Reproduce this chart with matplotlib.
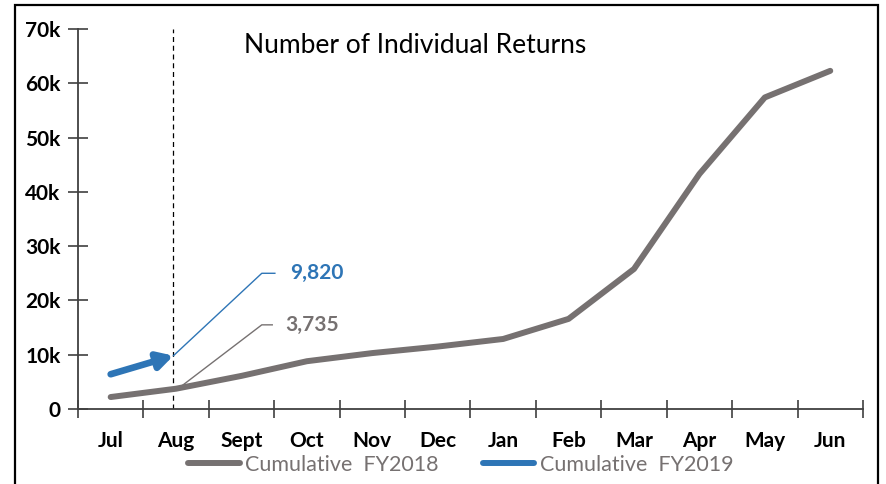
import numpy as np
import matplotlib.pyplot as plt
from matplotlib.lines import Line2D
from matplotlib.patches import Rectangle

plt.rcParams['font.family'] = ['Lato', 'DejaVu Sans']

months = ['Jul', 'Aug', 'Sept', 'Oct', 'Nov', 'Dec', 'Jan', 'Feb', 'Mar', 'Apr', 'May', 'Jun']
fy2018 = [2200, 3735, 6100, 8800, 10300, 11500, 12900, 16600, 25800, 43300, 57400, 62300]
fy2019 = [6400, 9820]
yticks = [0, 10000, 20000, 30000, 40000, 50000, 60000, 70000]
ytick_labels = ['0', '10k', '20k', '30k', '40k', '50k', '60k', '70k']

gray = '#767171'
blue = '#2E75B6'
axis_col = '#404040'

fig = plt.figure(figsize=(8.86, 4.84), dpi=100)
ax = fig.add_axes([0.088, 0.155, 0.886, 0.785])

x = np.arange(len(months))
ax.plot(x, fy2018, color=gray, lw=4.3, solid_capstyle='round', solid_joinstyle='round', zorder=3)

# FY2019 drawn as an arrow up to the latest month
x19 = np.arange(len(fy2019))
ax.annotate('', xy=(x19[-1] - 0.04, fy2019[-1]), xytext=(x19[0], fy2019[0]),
            arrowprops=dict(arrowstyle='-|>,head_length=0.9,head_width=0.5',
                            color=blue, lw=4.8, shrinkA=0, shrinkB=0,
                            capstyle='round'), zorder=4)

# current month marker
ax.axvline(0.95, color='black', lw=0.9, ls=(0, (4, 3)), zorder=2)

# callouts
ax.plot([x19[-1] - 0.04, 2.31, 2.51], [fy2019[-1], 25000, 25000], color=blue, lw=1.0)
ax.text(2.74, 25000, f'{fy2019[-1]:,}', color=blue, fontsize=15, fontweight='bold', va='center')
ax.plot([1.03, 2.31, 2.47], [fy2018[1], 15500, 15500], color=gray, lw=1.0)
ax.text(2.67, 15500, f'{fy2018[1]:,}', color=gray, fontsize=15, fontweight='bold', va='center')

ax.set_xlim(-0.5, len(months) - 0.5)
ax.set_ylim(0, 70000)
ax.set_xticks(np.arange(-0.5, len(months), 1.0))
ax.set_xticklabels([])
ax.set_xticks(x, minor=True)
ax.set_xticklabels(months, minor=True, fontsize=15, fontweight='bold')
ax.tick_params(axis='x', which='minor', length=0, pad=16)
ax.tick_params(axis='x', which='major', direction='inout', length=13, width=1.2, color=axis_col)
ax.set_yticks(yticks)
ax.set_yticklabels(ytick_labels, fontsize=15, fontweight='bold')
ax.tick_params(axis='y', direction='inout', length=15, width=1.2, color=axis_col, pad=5)

for s in ['top', 'right']:
    ax.spines[s].set_visible(False)
for s in ['left', 'bottom']:
    ax.spines[s].set_color(axis_col)
    ax.spines[s].set_linewidth(1.3)

fig.text(0.469, 0.907, 'Number of Individual Returns', fontsize=19, ha='center', va='center')

handles = [Line2D([], [], color=gray, lw=4.3, solid_capstyle='round'),
           Line2D([], [], color=blue, lw=4.3, solid_capstyle='round')]
leg = fig.legend(handles, ['Cumulative  FY2018', 'Cumulative  FY2019'], ncol=2,
                 loc='center', bbox_to_anchor=(0.52, 0.04), frameon=False,
                 fontsize=15.5, handlelength=2.4, columnspacing=2.05, handletextpad=0.25)
for t in leg.get_texts():
    t.set_color(gray)

fig.patches.append(Rectangle((0.017, -0.05), 0.974, 1.04, transform=fig.transFigure,
                             fill=False, ec='black', lw=1.6))

fig.savefig('out.png', dpi=100)
